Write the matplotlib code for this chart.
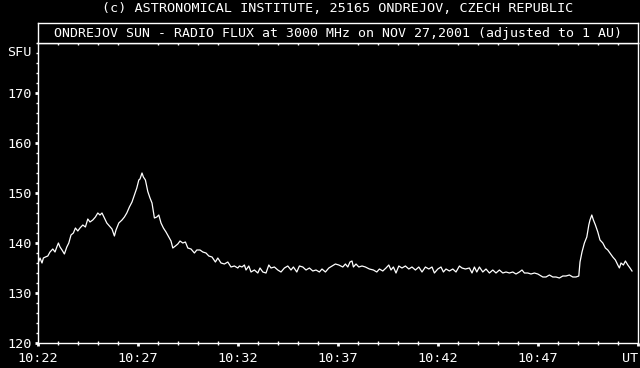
import matplotlib
matplotlib.use('Agg')
import matplotlib.pyplot as plt
from matplotlib.ticker import MultipleLocator, FixedLocator

# minutes after 10:22 UT
minutes = [0.035, 0.10, 0.20, 0.27, 0.37, 0.49, 0.60, 0.74, 0.85, 0.94, 1.02, 1.10, 1.20, 1.32, 1.44,
           1.54, 1.65, 1.77, 1.87, 1.99, 2.10, 2.24, 2.37, 2.49, 2.60, 2.74, 2.87, 2.99, 3.10, 3.20,
           3.32, 3.44, 3.57, 3.70, 3.82, 3.90, 4.04, 4.20, 4.32, 4.44, 4.57, 4.70, 4.82, 4.94, 5.04,
           5.10, 5.20, 5.27, 5.37, 5.49, 5.60, 5.70, 5.82, 5.94, 6.04, 6.15, 6.27, 6.40, 6.54, 6.65,
           6.74, 6.87, 6.99, 7.10, 7.24, 7.37, 7.49, 7.65, 7.82, 7.94, 8.10, 8.24, 8.40, 8.54, 8.70,
           8.87, 8.99, 9.15, 9.32, 9.49, 9.65, 9.82, 9.99,
           10.07, 10.20, 10.32, 10.40, 10.54, 10.65, 10.82, 10.99, 11.10, 11.24, 11.40, 11.54, 11.65,
           11.82, 11.99, 12.15, 12.32, 12.49, 12.65, 12.77, 12.94, 13.07, 13.24, 13.40, 13.57, 13.74,
           13.90, 14.07, 14.20, 14.37, 14.54, 14.70, 14.87, 15.04,
           15.24, 15.37, 15.49, 15.60, 15.70, 15.77, 15.90, 16.04, 16.20, 16.37, 16.57, 16.77, 16.94,
           17.07, 17.24, 17.40, 17.54, 17.65, 17.77, 17.90, 18.04, 18.20, 18.37, 18.54, 18.70, 18.87,
           19.04, 19.20, 19.37, 19.54, 19.70, 19.82, 19.99,
           20.15, 20.27, 20.40, 20.57, 20.74, 20.90, 21.07, 21.20, 21.37, 21.57, 21.70, 21.82, 21.94,
           22.07, 22.24, 22.40, 22.57, 22.74, 22.90, 23.07, 23.24, 23.40, 23.57, 23.74, 23.90, 24.07,
           24.20, 24.32, 24.49, 24.65, 24.82, 24.99,
           25.07, 25.24, 25.40, 25.57, 25.74, 25.90, 26.07, 26.24, 26.40, 26.57, 26.74, 26.90, 27.04,
           27.10, 27.20, 27.32, 27.44, 27.54, 27.60, 27.69, 27.77, 27.87, 27.99, 28.10, 28.24, 28.37,
           28.49, 28.60, 28.74, 28.87, 28.99, 29.07, 29.15, 29.27, 29.37, 29.49, 29.60, 29.70]

sfu = [136.3, 137.0, 136.0, 137.0, 137.2, 137.4, 138.2, 138.8, 138.2, 139.2, 140.0, 139.2, 138.6, 137.8, 139.2,
       140.0, 141.6, 142.0, 143.0, 142.4, 143.0, 143.6, 143.2, 144.8, 144.2, 144.6, 145.2, 146.0, 145.6, 146.0,
       145.0, 144.0, 143.4, 142.8, 141.4, 142.6, 144.0, 144.6, 145.2, 146.0, 147.2, 148.2, 149.6, 151.0, 152.6,
       152.8, 154.0, 153.2, 152.6, 150.3, 149.0, 148.0, 145.0, 145.2, 145.6, 144.0, 143.0, 142.2, 141.2, 140.4,
       139.0, 139.4, 139.8, 140.4, 140.0, 140.2, 139.0, 138.8, 138.0, 138.6, 138.6, 138.2, 138.0, 137.4, 137.2,
       136.2, 137.0, 136.0, 135.8, 136.2, 135.2, 135.4, 135.0,
       135.4, 135.2, 135.6, 134.6, 135.4, 134.2, 134.6, 134.0, 135.0, 134.2, 134.0, 135.6, 135.0,
       135.2, 134.6, 134.2, 135.0, 135.4, 134.6, 135.2, 134.2, 135.4, 135.2, 134.6, 135.0, 134.4,
       134.6, 134.2, 134.8, 134.2, 135.0, 135.4, 135.8, 135.6,
       135.2, 135.8, 135.2, 136.2, 136.4, 135.2, 135.8, 135.2, 135.4, 135.2, 134.8, 134.6, 134.2,
       134.8, 134.4, 135.0, 135.6, 134.6, 135.2, 134.0, 135.4, 135.0, 135.4, 134.8, 135.2, 134.6,
       135.2, 134.2, 135.2, 134.8, 135.2, 134.0, 134.8,
       135.2, 134.2, 134.8, 134.4, 134.8, 134.2, 135.4, 135.0, 134.8, 135.0, 134.0, 135.2, 134.2,
       135.2, 134.2, 134.8, 134.0, 134.6, 134.0, 134.6, 134.0, 134.2, 134.0, 134.2, 133.8, 134.2,
       134.6, 134.0, 134.0, 133.8, 134.0, 133.8,
       133.6, 133.2, 133.2, 133.6, 133.2, 133.2, 133.0, 133.4, 133.4, 133.6, 133.2, 133.2, 133.4,
       136.2, 138.2, 140.0, 141.2, 143.6, 144.6, 145.6, 144.6, 143.6, 142.2, 140.6, 140.0, 139.0,
       138.6, 138.0, 137.2, 136.6, 135.6, 135.0, 136.0, 135.6, 136.4, 135.6, 135.0, 134.4]

xtick_pos = [0, 5, 10, 15, 20, 25, 30]
xtick_labels = ['10:22', '10:27', '10:32', '10:37', '10:42', '10:47', 'UT']
ytick_pos = [120, 130, 140, 150, 160, 170]

plt.rcParams['font.family'] = 'DejaVu Sans Mono'
W, H = 640, 368
fig = plt.figure(figsize=(6.4, 3.68), dpi=100, facecolor='black')

ax = fig.add_axes([38 / W, 1 - 343 / H, 600 / W, 300 / H], facecolor='black')
ax.plot(minutes, sfu, color='white', lw=0.9)
ax.set_xlim(0, 30)
ax.set_ylim(120, 180)
for s in ax.spines.values():
    s.set_color('white')
    s.set_linewidth(1.0)

ax.xaxis.set_major_locator(FixedLocator(xtick_pos))
ax.set_xticklabels(xtick_labels)
ax.xaxis.set_minor_locator(MultipleLocator(1))
ax.yaxis.set_major_locator(FixedLocator(ytick_pos))
ax.yaxis.set_minor_locator(MultipleLocator(2))
ax.tick_params(axis='both', which='major', colors='white', labelcolor='white', labelsize=9.7,
               length=2.5, width=2.0, direction='out')
ax.tick_params(axis='both', which='minor', colors='white', length=1.5, width=1.0, direction='out')
ax.tick_params(axis='x', which='minor', top=True, direction='inout', length=3)
ax.tick_params(axis='y', which='major', pad=2)
ax.tick_params(axis='x', which='major', pad=4)
labels = ax.get_xticklabels()
labels[-1].set_horizontalalignment('right')

fig.text(32 / W, 1 - 53 / H, 'SFU', color='white', fontsize=9.7, ha='right', va='center')

# title box
tb = fig.add_axes([38 / W, 1 - 43 / H, 600 / W, 20 / H], facecolor='black')
tb.set_xticks([])
tb.set_yticks([])
for s in tb.spines.values():
    s.set_color('white')
    s.set_linewidth(1.0)
tb.text(0.5, 0.5, 'ONDREJOV SUN - RADIO FLUX at 3000 MHz on NOV 27,2001 (adjusted to 1 AU)',
        color='white', fontsize=9.5, ha='center', va='center', transform=tb.transAxes)

fig.text(338 / W, 1 - 9 / H, '(c) ASTRONOMICAL INSTITUTE, 25165 ONDREJOV, CZECH REPUBLIC',
         color='white', fontsize=9.7, ha='center', va='center')

fig.savefig('out.png', dpi=100, facecolor='black')
